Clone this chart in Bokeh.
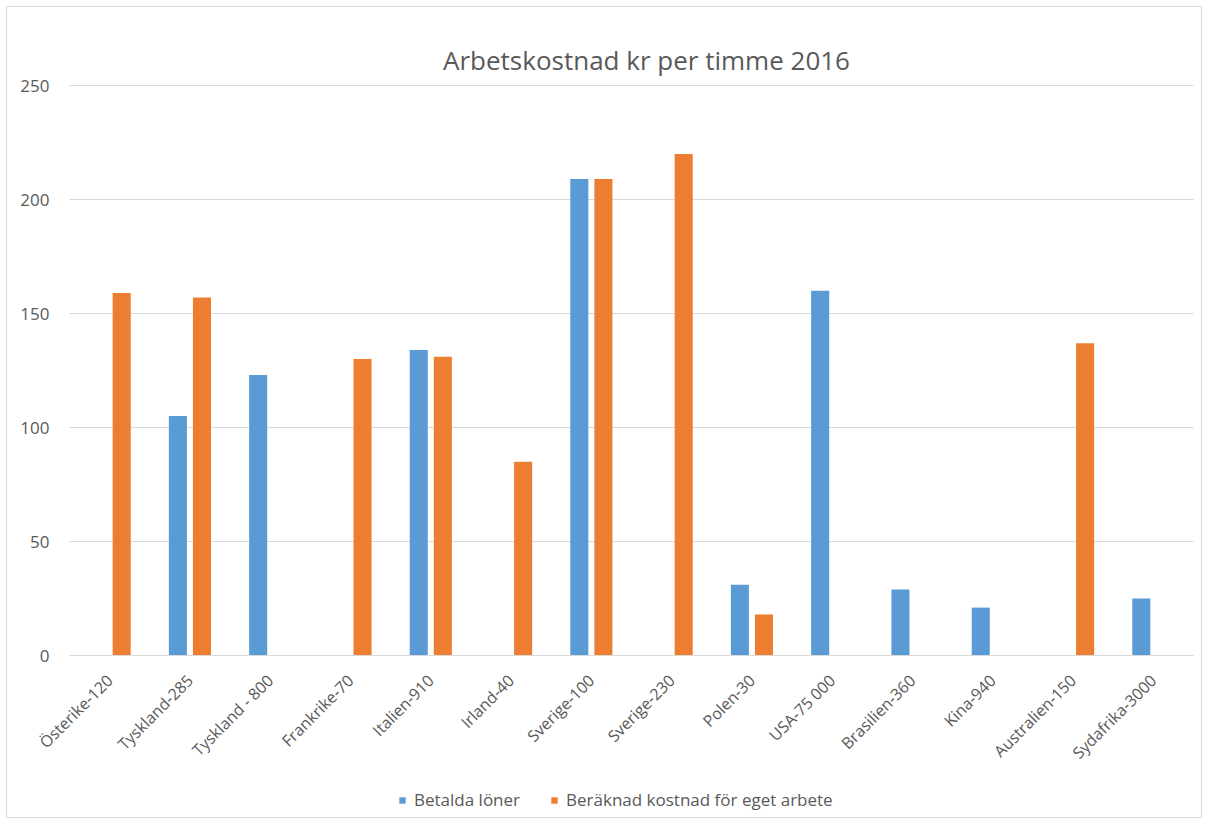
from math import pi
from bokeh.plotting import figure
from bokeh.models import (ColumnDataSource, Range1d, Legend, LegendItem, Label, FixedTicker)
from bokeh.transform import dodge
from bokeh.embed import file_html
from bokeh.resources import INLINE

categories = ["Österike-120", "Tyskland-285", "Tyskland - 800", "Frankrike-70", "Italien-910",
              "Irland-40", "Sverige-100", "Sverige-230", "Polen-30", "USA-75 000",
              "Brasilien-360", "Kina-940", "Australien-150", "Sydafrika-3000"]
betalda = [None, 105, 123, None, 134, None, 209, None, 31, 160, 29, 21, None, 25]
beraknad = [159, 157, None, 130, 131, 85, 209, 220, 18, None, None, None, 137, None]
y_ticks = [0, 50, 100, 150, 200, 250]
series_names = ["Betalda löner", "Beräknad kostnad för eget arbete"]
colors = ["#5B9BD5", "#ED7D31"]
title_text = "Arbetskostnad kr per timme 2016"

FONT = "Open Sans"
GREY = "#595959"
GRID = "#D9D9D9"

idx = list(range(len(categories)))
src = ColumnDataSource(dict(
    i=idx,
    b=[float("nan") if v is None else v for v in betalda],
    o=[float("nan") if v is None else v for v in beraknad]))

# Layout geometry (page px): figure content 8..1204 x 8..820
W, H = 1196, 812
FR_L, FR_B = 8, 8 + H               # frame covers the whole figure
PLOT_L, PLOT_R = 70, 1194           # category band extent
Y0, Y250 = 656, 86
cat_px = (PLOT_R - PLOT_L) / len(categories)
ppu = (Y0 - Y250) / 250.0
x_start = -0.5 - (PLOT_L - FR_L) / cat_px
x_end = len(categories) - 0.5 + (FR_L + W - PLOT_R) / cat_px
y_end = 250 + (Y250 - 8) / ppu
y_start = -(FR_B - Y0) / ppu

p = figure(width=W, height=H, x_range=Range1d(x_start, x_end), y_range=Range1d(y_start, y_end),
           output_backend="svg", toolbar_location=None,
           min_border_left=0, min_border_right=0, min_border_top=0, min_border_bottom=0)
p.styles = {"border": "1px solid #D9D9D9", "margin-left": "6px", "margin-top": "6px"}
p.outline_line_color = None
p.xgrid.visible = False
p.ygrid.visible = False

# horizontal gridlines across the category band
p.segment(x0=[-0.5] * len(y_ticks), x1=[len(categories) - 0.5] * len(y_ticks),
          y0=y_ticks, y1=y_ticks, line_color=GRID, line_width=1)

r1 = p.vbar(x=dodge("i", -0.15), top="b", width=0.225, source=src,
            fill_color=colors[0], line_color=None)
r2 = p.vbar(x=dodge("i", 0.15), top="o", width=0.225, source=src,
            fill_color=colors[1], line_color=None)

p.yaxis.fixed_location = -0.5
p.yaxis.ticker = FixedTicker(ticks=y_ticks)
p.yaxis.axis_line_color = None
p.yaxis.major_tick_line_color = None
p.yaxis.minor_tick_line_color = None
p.yaxis.major_label_text_font = FONT
p.yaxis.major_label_text_font_size = "17px"
p.yaxis.major_label_text_color = GREY
p.yaxis.major_label_standoff = 14

p.xaxis.fixed_location = 0
p.xaxis.bounds = (-0.5, len(categories) - 0.5)
p.xaxis.ticker = FixedTicker(ticks=idx)
p.xaxis.major_label_overrides = {i: c for i, c in zip(idx, categories)}
p.xaxis.axis_line_color = GRID
p.xaxis.major_tick_line_color = None
p.xaxis.minor_tick_line_color = None
p.xaxis.major_label_orientation = pi / 4
p.xaxis.major_label_text_font = FONT
p.xaxis.major_label_text_font_size = "16px"
p.xaxis.major_label_text_color = GREY
p.xaxis.major_label_standoff = 16

p.add_layout(Label(x=647 - FR_L, y=FR_B - 60, x_units="screen", y_units="screen", text=title_text,
                   text_align="center", text_baseline="alphabetic", text_font=FONT,
                   text_font_size="26px", text_color=GREY))

legend = Legend(items=[LegendItem(label=series_names[0], renderers=[r1]),
                       LegendItem(label=series_names[1], renderers=[r2])],
                orientation="horizontal", location=(391, 8),
                label_text_font=FONT, label_text_font_size="17px", label_text_color=GREY,
                glyph_width=8, glyph_height=8, spacing=30, label_standoff=8,
                border_line_color=None, background_fill_alpha=0, padding=2, margin=0)
p.add_layout(legend, "center")

open("out.html", "w").write(file_html(p, INLINE))
